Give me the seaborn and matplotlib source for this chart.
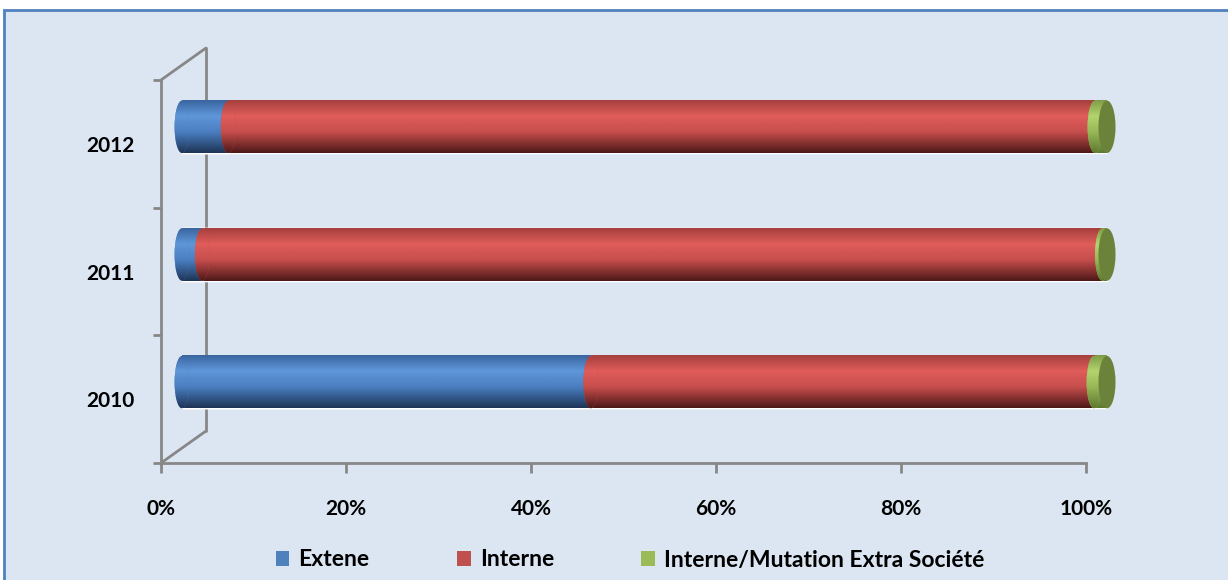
import numpy as np
import pandas as pd
import matplotlib
matplotlib.use('Agg')
import matplotlib.pyplot as plt
import matplotlib.transforms as mtransforms
from matplotlib.patches import Ellipse, Rectangle, Patch
from matplotlib.lines import Line2D
from matplotlib.colors import LinearSegmentedColormap
import seaborn as sns

# data (percent of each year)
years = ['2012', '2011', '2010']
extene = [5.0, 2.2, 44.2]
mutation = [1.3, 0.5, 1.4]
interne = [100 - e - m for e, m in zip(extene, mutation)]
series = ['Extene', 'Interne', 'Interne/Mutation Extra Société']
ticks = [0, 20, 40, 60, 80, 100]

blue, red, green = '#4F81BD', '#C0504D', '#9BBB59'
shades = {
    blue: ['#3A66A0', '#5F97DA', '#4A7EC0', '#1E3556'],
    red: ['#A5403E', '#E05D5B', '#C64E4C', '#4E1818'],
    green: ['#7E9C45', '#B4D46F', '#98B858', '#5E7A30'],
}
bg = '#DCE6F2'
grey = '#878787'

sns.set_theme(style='white')
plt.rcParams['font.family'] = ['Lato', 'DejaVu Sans']
plt.rcParams['font.weight'] = 'bold'
plt.rcParams['text.color'] = 'black'
plt.rcParams['xtick.labelcolor'] = 'black'
plt.rcParams['ytick.labelcolor'] = 'black'

fig = plt.figure(figsize=(12.28, 5.8), dpi=100)
fig.patch.set_facecolor('white')
box = Rectangle((4 / 1228, -0.05), 1.2, (580 - 10) / 580 + 0.05,
                transform=fig.transFigure, facecolor=bg,
                edgecolor='#4F81BD', lw=2, zorder=-5)
fig.patches.append(box)

ax = fig.add_axes([161 / 1228, 1 - 463 / 580, 925 / 1228, 383 / 580])
ax.set_facecolor('none')
ax.set_zorder(2)

df = pd.DataFrame({'year': years, 'ext': extene, 'int': interne, 'mut': mutation})
df['c1'] = df['ext']
df['c2'] = df['ext'] + df['int']
df['c3'] = df['c2'] + df['mut']

bh = 0.41
sns.barplot(data=df, x='c3', y='year', order=years, color=green, width=bh,
            saturation=1, ax=ax, orient='h')
sns.barplot(data=df, x='c2', y='year', order=years, color=red, width=bh,
            saturation=1, ax=ax, orient='h')
sns.barplot(data=df, x='c1', y='year', order=years, color=blue, width=bh,
            saturation=1, ax=ax, orient='h')

ax.set_xlim(0, 100)
ax.set_ylim(2.5, -0.5)

# depth offset for the cylinders
shift = mtransforms.offset_copy(ax.transData, fig=fig, x=21, y=17, units='dots')


def gradient(c):
    return LinearSegmentedColormap.from_list('g', [
        (0.0, shades[c][0]), (0.3, shades[c][1]), (0.6, shades[c][2]),
        (1.0, shades[c][3])])


grad = np.linspace(0, 1, 100).reshape(-1, 1)

ew = 1.6  # cap width in data units
cols = [green, red, blue]
bars = ax.patches[:]
for k, p in enumerate(bars):
    c = cols[k // 3]
    z = 2 + k // 3
    p.set_transform(shift)
    p.set_clip_on(False)
    p.set_zorder(z)
    x0, w = p.get_x(), p.get_width()
    yc = p.get_y() + p.get_height() / 2
    h = p.get_height()
    im = ax.imshow(grad, cmap=gradient(c), aspect='auto', zorder=z + 0.1,
                   interpolation='bilinear', extent=(x0, x0 + w, yc + h / 2, yc - h / 2))
    im.set_transform(shift)
    im.set_clip_path(p)
    im.set_clip_box(fig.bbox)

# rounded starts of each segment and end caps
for i, yr in enumerate(years):
    h = bh
    starts = [(0, blue), (extene[i], red), (extene[i] + interne[i], green)]
    for j, (s, c) in enumerate(starts):
        e = Ellipse((s, i), ew, h, transform=shift, facecolor=c, edgecolor='none',
                    zorder=6 + j, clip_on=False)
        ax.add_patch(e)
        im = ax.imshow(grad, cmap=gradient(c), aspect='auto', zorder=6 + j + 0.1,
                       interpolation='bilinear',
                       extent=(s - ew, s + ew, i + h / 2, i - h / 2))
        im.set_transform(shift)
        im.set_clip_path(e)
        im.set_clip_box(fig.bbox)
    cap = Ellipse((100, i), ew * 1.15, h, transform=shift, facecolor='#6A8239',
                  edgecolor='none', zorder=10, clip_on=False)
    ax.add_patch(cap)

ax.set_xlim(0, 100)
ax.set_ylim(2.5, -0.5)

# back wall lines
wall = mtransforms.offset_copy(ax.transAxes, fig=fig, x=45, y=32, units='dots')
ax.add_line(Line2D([0, 0], [0, 1], transform=wall, color=grey, lw=2,
                   clip_on=False, zorder=1))
for yy in (0, 1):
    pts = ax.transAxes.transform([(0, yy)])[0]
    ax.add_line(Line2D([pts[0], pts[0] + 45], [pts[1], pts[1] + 32],
                       transform=None, color=grey, lw=2, clip_on=False, zorder=1))

sns.despine(ax=ax, top=True, right=True)
for s in ('left', 'bottom'):
    ax.spines[s].set_color(grey)
    ax.spines[s].set_linewidth(2)

ax.set_xticks(ticks)
ax.set_xticklabels([f'{t}%' for t in ticks], fontsize=15, fontweight='bold',
                   color='black')
ax.tick_params(axis='x', length=7, width=2, color=grey, pad=19, direction='out',
               bottom=True)
ax.set_yticks(range(len(years)))
ax.set_yticklabels(years, fontsize=15, fontweight='bold', color='black')
ax.tick_params(axis='y', length=0, pad=19)
ax.set_yticks([-0.5, 0.5, 1.5, 2.5], minor=True)
ax.tick_params(axis='y', which='minor', length=6, width=2, color=grey,
               direction='out', left=True)
ax.set_xlabel('')
ax.set_ylabel('')

handles = [Patch(facecolor=c, edgecolor='none') for c in (blue, red, green)]
leg = fig.legend(handles, series, loc='center',
                 bbox_to_anchor=(630 / 1228, 1 - 560 / 580),
                 ncol=3, frameon=False, handlelength=0.6, handleheight=0.6,
                 handletextpad=0.4, columnspacing=3.8,
                 prop={'weight': 'bold', 'size': 16.5})
for t in leg.get_texts():
    t.set_color('black')

fig.savefig('out.png', dpi=100, facecolor=fig.get_facecolor())
